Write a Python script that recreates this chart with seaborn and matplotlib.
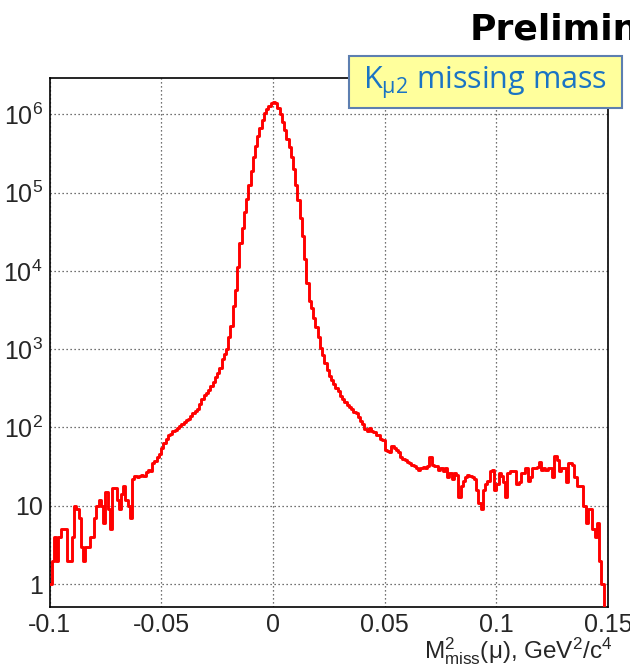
import numpy as np
import pandas as pd
import matplotlib
matplotlib.use("Agg")
import matplotlib.pyplot as plt
import matplotlib.ticker as mticker
from matplotlib.patches import Rectangle
import seaborn as sns

# ---------------- data ----------------
x_min, x_max, n_bins = -0.1, 0.15, 250

counts_left_tail = [1, 2, 4, 2, 4, 5, 5, 5, 2, 2,
                    4, 10, 9, 7, 3, 2, 3, 3, 4, 4,
                    7, 10, 12, 10, 6, 15, 9, 5, 17, 17,
                    12, 9, 14, 18, 12, 10, 7, 22, 24, 23,
                    24, 25, 24, 27, 29, 28, 35, 37, 42, 46]
counts_rise = [54, 63, 72, 79, 83, 89, 93, 98, 105, 110,
               117, 126, 129, 141, 151, 162, 174, 200, 229, 257,
               275, 302, 339, 380, 447, 490, 575, 759, 871, 1000,
               1413, 1950, 3548, 5623, 11220, 22390, 35480, 56230, 83180, 125900,
               190500, 281800, 398100, 524800, 676100, 851100, 1023000, 1175000, 1288000, 1380000]
counts_fall = [1445000, 1380000, 1202000, 1000000, 794300, 631000, 478600, 380200, 281800, 199500,
               125900, 79430, 47860, 28180, 14130, 7079, 4169, 3311, 2512, 1905,
               1445, 1047, 832, 661, 537, 457, 398, 363, 316, 295,
               251, 234, 209, 191, 182, 174, 158, 151, 135, 120,
               112, 95, 91, 98, 91, 87, 81, 79, 72, 69]
counts_mid_tail = [52, 50, 48, 58, 54, 52, 49, 42, 40, 38,
                   36, 35, 33, 32, 30, 29, 30, 31, 30, 32,
                   42, 33, 32, 32, 29, 30, 28, 30, 23, 26,
                   22, 26, 25, 13, 18, 21, 23, 25, 24, 23,
                   22, 16, 11, 9, 16, 19, 21, 28, 29, 16]
counts_right_tail = [19, 26, 24, 20, 13, 26, 28, 28, 28, 19,
                     20, 26, 26, 30, 21, 23, 30, 30, 31, 36,
                     29, 30, 29, 30, 30, 23, 43, 38, 28, 30,
                     30, 20, 35, 35, 33, 23, 18, 18, 18, 10,
                     6, 9, 9, 5, 4, 6, 2, 1, 0, 0]

x_ticks = [-0.1, -0.05, 0, 0.05, 0.1, 0.15]
x_tick_labels = ["-0.1", "-0.05", "0", "0.05", "0.1", "0.15"]

title_text = r"K$_{\mu2}$ missing mass"
prelim_text = "Preliminary"
xlabel_text = r"M$^{2}_{miss}$(μ), GeV$^{2}$/c$^{4}$"

# ---------------- build table ----------------
counts = np.concatenate([counts_left_tail, counts_rise, counts_fall,
                         counts_mid_tail, counts_right_tail]).astype(float)
edges = np.linspace(x_min, x_max, n_bins + 1)
centers = 0.5 * (edges[:-1] + edges[1:])
df = pd.DataFrame({"m2": centers, "n": counts})

# ---------------- style ----------------
sns.set_style("white")
plt.rcParams["font.family"] = ["Liberation Sans", "DejaVu Sans"]
plt.rcParams["mathtext.fontset"] = "custom"
plt.rcParams["mathtext.rm"] = "Liberation Sans"
plt.rcParams["mathtext.it"] = "Liberation Sans"
plt.rcParams["mathtext.default"] = "regular"

fig = plt.figure(figsize=(6.3, 6.65), dpi=100)
fig.patch.set_facecolor("white")
ax = fig.add_axes([49.5 / 630, 58 / 665, 558.5 / 630, 529 / 665])
ax.set_facecolor("white")

sns.histplot(data=df, x="m2", weights="n", bins=n_bins, binrange=(x_min, x_max),
             element="step", fill=False, color="#ff0000", linewidth=2.1, ax=ax, zorder=3)

ax.set_yscale("log")
ax.set_xlim(x_min, x_max)
ax.set_ylim(0.51, 2.9e6)

# ticks
ax.xaxis.set_major_locator(mticker.FixedLocator(x_ticks))
ax.xaxis.set_major_formatter(mticker.FixedFormatter(x_tick_labels))
ax.xaxis.set_minor_locator(mticker.MultipleLocator(0.01))
ax.yaxis.set_major_locator(mticker.LogLocator(base=10, numticks=20))
ax.yaxis.set_minor_locator(mticker.LogLocator(base=10, subs=np.arange(2, 10), numticks=20))


def yfmt(v, pos):
    k = int(round(np.log10(v)))
    if k == 0:
        return "1"
    if k == 1:
        return "10"
    return r"$10^{%d}$" % k


ax.yaxis.set_major_formatter(mticker.FuncFormatter(yfmt))
ax.yaxis.set_minor_formatter(mticker.NullFormatter())

ax.tick_params(axis="both", which="major", direction="in", length=12, width=1.0,
               color="#333333", labelsize=18, top=False, right=False)
ax.tick_params(axis="both", which="minor", direction="in", length=6, width=1.0,
               color="#333333", top=False, right=False)
ax.tick_params(axis="x", which="major", pad=4)
ax.tick_params(axis="y", which="major", pad=5)

ax.grid(True, which="major", linestyle=(0, (1, 2.2)), color="#444444", linewidth=0.9)
ax.set_axisbelow(True)

for s in ax.spines.values():
    s.set_visible(True)
    s.set_color("black")
    s.set_linewidth(1.2)

ax.set_xlabel("")
ax.set_ylabel("")

# x label, right aligned under the axis end
fig.text(612 / 630, 1 - 658 / 665, xlabel_text, ha="right", va="baseline", fontsize=17.5)

# title box
box = Rectangle((349 / 630, 1 - 108 / 665), (622 - 349) / 630, 52 / 665,
                transform=fig.transFigure, facecolor="#ffff9c", edgecolor="#5d7fb0",
                linewidth=1.5, zorder=5)
fig.patches.append(box)
fig.text(485 / 630, 1 - 83 / 665, title_text, ha="center", va="center",
         fontsize=22, color="#1a74c4", family=["Open Sans", "DejaVu Sans"], zorder=6)

# preliminary (runs off the right edge, as in the reference)
fig.text(470 / 630, 1 - 40 / 665, prelim_text, ha="left", va="baseline",
         fontsize=26, fontweight="bold", color="black",
         family=["DejaVu Sans"])

fig.savefig("out.png", dpi=100, facecolor="white")
